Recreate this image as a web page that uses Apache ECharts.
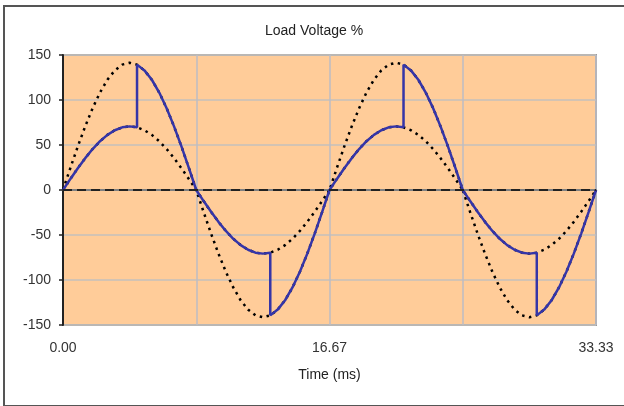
<!DOCTYPE html>
<html>
<head>
<meta charset="utf-8">
<script src="https://cdn.jsdelivr.net/npm/echarts@6/dist/echarts.min.js"></script>
<style>
  html, body { margin: 0; padding: 0; background: #ffffff; }
  #frame { position: absolute; left: 3px; top: 5px; width: 660px; height: 398px; border: 2px solid #555555; }
  #chart { position: absolute; left: 0; top: 0; width: 624px; height: 406px; }
</style>
</head>
<body>
<div id="frame"></div>
<div id="chart"></div>
<script>
// Time samples (ms), every 10 degrees of a 60 Hz cycle
const timeMs = [0.000,0.463,0.926,1.389,1.852,2.315,2.778,3.241,3.704,4.167,4.630,5.093,5.556,6.019,6.481,6.944,7.407,7.870,8.333,
  8.796,9.259,9.722,10.185,10.648,11.111,11.574,12.037,12.500,12.963,13.426,13.889,14.352,14.815,15.278,15.741,16.204,16.667,
  17.130,17.593,18.056,18.519,18.981,19.444,19.907,20.370,20.833,21.296,21.759,22.222,22.685,23.148,23.611,24.074,24.537,25.000,
  25.463,25.926,26.389,26.852,27.315,27.778,28.241,28.704,29.167,29.630,30.093,30.556,31.019,31.481,31.944,32.407,32.870,33.333];

// Full supply voltage (dotted, large)
const fullVoltage = [0,24.6,48.4,70.7,90.9,108.3,122.5,132.9,139.3,141.4,139.3,132.9,122.5,108.3,90.9,70.7,48.4,24.6,0,
  -24.6,-48.4,-70.7,-90.9,-108.3,-122.5,-132.9,-139.3,-141.4,-139.3,-132.9,-122.5,-108.3,-90.9,-70.7,-48.4,-24.6,0,
  24.6,48.4,70.7,90.9,108.3,122.5,132.9,139.3,141.4,139.3,132.9,122.5,108.3,90.9,70.7,48.4,24.6,0,
  -24.6,-48.4,-70.7,-90.9,-108.3,-122.5,-132.9,-139.3,-141.4,-139.3,-132.9,-122.5,-108.3,-90.9,-70.7,-48.4,-24.6,0];

// Half voltage (dotted, small)
const halfVoltage = [0,12.3,24.2,35.4,45.5,54.2,61.2,66.4,69.6,70.7,69.6,66.4,61.2,54.2,45.5,35.4,24.2,12.3,0,
  -12.3,-24.2,-35.4,-45.5,-54.2,-61.2,-66.4,-69.6,-70.7,-69.6,-66.4,-61.2,-54.2,-45.5,-35.4,-24.2,-12.3,0,
  12.3,24.2,35.4,45.5,54.2,61.2,66.4,69.6,70.7,69.6,66.4,61.2,54.2,45.5,35.4,24.2,12.3,0,
  -12.3,-24.2,-35.4,-45.5,-54.2,-61.2,-66.4,-69.6,-70.7,-69.6,-66.4,-61.2,-54.2,-45.5,-35.4,-24.2,-12.3,0];

// Load voltage (solid blue) with the step at each switching instant
const loadTime = [0.000,0.463,0.926,1.389,1.852,2.315,2.778,3.241,3.704,4.167,4.630,4.630,5.093,5.556,6.019,6.481,6.944,7.407,7.870,8.333,
  8.796,9.259,9.722,10.185,10.648,11.111,11.574,12.037,12.500,12.963,12.963,13.426,13.889,14.352,14.815,15.278,15.741,16.204,16.667,
  17.130,17.593,18.056,18.519,18.981,19.444,19.907,20.370,20.833,21.296,21.296,21.759,22.222,22.685,23.148,23.611,24.074,24.537,25.000,
  25.463,25.926,26.389,26.852,27.315,27.778,28.241,28.704,29.167,29.630,29.630,30.093,30.556,31.019,31.481,31.944,32.407,32.870,33.333];
const loadVoltage = [0,12.3,24.2,35.4,45.5,54.2,61.2,66.4,69.6,70.7,69.6,139.3,132.9,122.5,108.3,90.9,70.7,48.4,24.6,0,
  -12.3,-24.2,-35.4,-45.5,-54.2,-61.2,-66.4,-69.6,-70.7,-69.6,-139.3,-132.9,-122.5,-108.3,-90.9,-70.7,-48.4,-24.6,0,
  12.3,24.2,35.4,45.5,54.2,61.2,66.4,69.6,70.7,69.6,139.3,132.9,122.5,108.3,90.9,70.7,48.4,24.6,0,
  -12.3,-24.2,-35.4,-45.5,-54.2,-61.2,-66.4,-69.6,-70.7,-69.6,-139.3,-132.9,-122.5,-108.3,-90.9,-70.7,-48.4,-24.6,0];

const xTickLabels = ['0.00', '', '16.67', '', '33.33'];
const titleText = 'Load Voltage %';
const xAxisTitle = 'Time (ms)';

const zip = (a, b) => a.map((v, i) => [v, b[i]]);

const chart = echarts.init(document.getElementById('chart'), null, { renderer: 'canvas' });
const font = 'Liberation Sans, Arial, sans-serif';
const gridGray = '#c4c0bc';
chart.setOption({
  animation: false,
  backgroundColor: 'transparent',
  textStyle: { fontFamily: font },
  title: {
    text: titleText, left: 260, top: 19,
    textStyle: { fontSize: 14, fontWeight: 'normal', color: '#222', fontFamily: font }
  },
  grid: {
    left: 63, top: 55, right: 28, bottom: 81, show: true,
    backgroundColor: '#FFCC99', borderColor: '#9a9a9a', borderWidth: 2
  },
  xAxis: {
    type: 'value', min: 0, max: 100 / 3, interval: 100 / 12,
    name: xAxisTitle, nameLocation: 'middle', nameGap: 43,
    nameTextStyle: { fontSize: 14, color: '#222', fontFamily: font },
    axisLine: { show: true, lineStyle: { color: '#808080', width: 2 } },
    axisTick: { show: false },
    axisLabel: {
      fontSize: 14, color: '#333', margin: 16, fontFamily: font,
      formatter: (v, i) => xTickLabels[i] || ''
    },
    splitLine: { show: true, lineStyle: { color: '#bdbdc4', width: 1.5 } }
  },
  yAxis: {
    type: 'value', min: -150, max: 150, interval: 50,
    axisLine: { show: true, lineStyle: { color: '#222', width: 2 } },
    axisTick: { show: true, length: 4, lineStyle: { color: '#222', width: 1.5 } },
    axisLabel: { fontSize: 14, color: '#333', margin: 12, fontFamily: font },
    splitLine: { show: true, lineStyle: { color: [gridGray, gridGray, gridGray, '#FFCC99', gridGray, gridGray, gridGray], width: 1.5 } }
  },
  series: [
    {
      name: 'Full', type: 'line', data: zip(timeMs, fullVoltage),
      showSymbol: false, symbol: 'none', z: 3,
      lineStyle: { color: '#000', width: 2.5, type: [2.5, 4.5] },
      markLine: {
        silent: true, symbol: 'none', label: { show: false },
        lineStyle: { color: '#222', width: 1.8, type: [9, 5] },
        data: [{ yAxis: 0 }]
      }
    },
    {
      name: 'Half', type: 'line', data: zip(timeMs, halfVoltage),
      showSymbol: false, symbol: 'none', z: 3,
      lineStyle: { color: '#000', width: 2.5, type: [2.5, 4.5] }
    },
    {
      name: 'Load', type: 'line', data: zip(loadTime, loadVoltage),
      showSymbol: false, symbol: 'none', z: 4,
      lineStyle: { color: '#3535a8', width: 2.5 }
    }
  ]
});
</script>
</body>
</html>
